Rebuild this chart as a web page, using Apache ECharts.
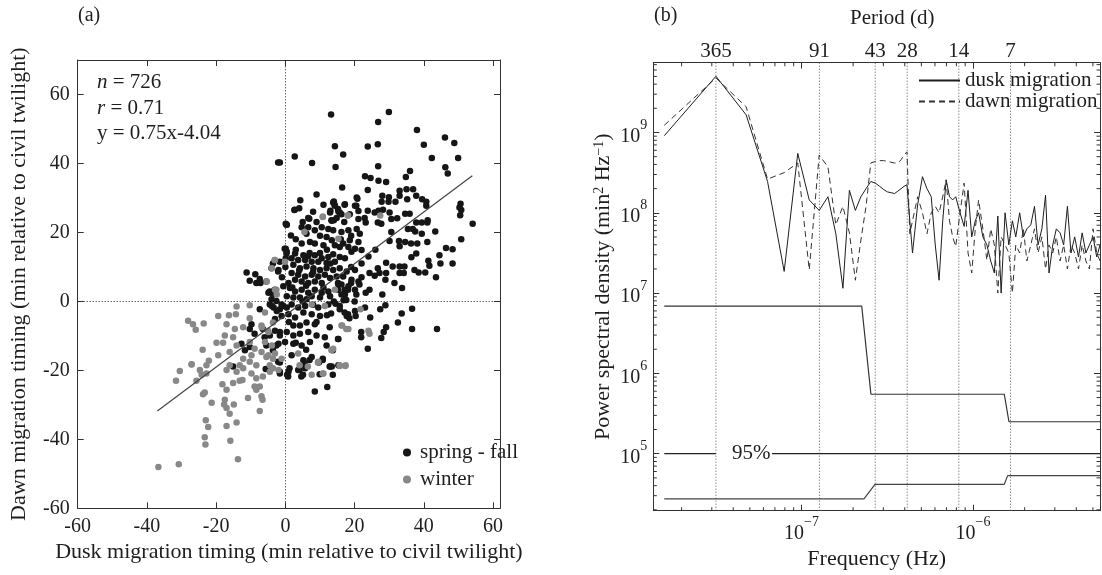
<!DOCTYPE html>
<html><head><meta charset="utf-8">
<script src="https://cdn.jsdelivr.net/npm/echarts@6.0.0/dist/echarts.min.js"></script>
<style>html,body{margin:0;padding:0;background:#fff}#c{width:1102px;height:575px}</style>
</head><body><div id="c"></div>
<script>
// ---------- Panel (a): scatter data [dusk timing, dawn timing] ----------
const springFall = [
[13.2,54.2],[29.9,54.9],[26.8,52],[38,49.7],[46.1,47.5],[48.8,45.9],[40,45.4],[14.3,45],[23.8,44.9],[26.7,45.6],[16.7,42.6],[2.7,42],[7.7,40.1],[-1.6,40.3],[14.5,39],[26.8,39.2],[42.3,41.6],[49.9,41.6],[46.2,38.9],[46.9,37.1],[23,36.3],[24.6,35.8],[26.9,35],[29.1,34.6],[34.8,36.1],[36,37.8],[16.4,33],[23.8,32.3],[33,32.1],[35,32.5],[36.9,32.5],[9,31],[4.3,29.3],[2.7,26.6],[14,29],[14.2,28],[20.8,29.8],[28,30.6],[29.9,30.2],[27.8,28.9],[29.8,28.9],[31.8,28.9],[33,30.6],[35.2,29.6],[37.8,30.6],[39.5,29.6],[40.7,28.9],[40.7,27.7],[50.6,28.3],[50.3,27.2],[50.8,26.5],[50.5,25],[17.1,28],[20.5,27.7],[13,26.3],[15.2,26.8],[15.7,25.8],[21.1,26.2],[23.8,26.3],[25.8,25.8],[26.9,26.3],[28.2,26.6],[30.1,25.8],[34.6,25.4],[35.9,25.4],[6.9,24],[13.3,23.5],[14,23.5],[22.9,24.2],[23.2,22.9],[30.6,23.9],[32.3,24.1],[41.1,23.5],[39.4,22.9],[54.1,22.5],[0.3,22.2],[26.7,22.9],[27.7,22.5],
[-2.1,40.3],[0.1,22.5],
[50.8,18],[46.4,15.5],[48.3,15.1],[43.3,20.3],[41,17.2],[44.5,13.4],[44.8,11],[48.3,11],[43.5,7],[41.3,11.8],[41.6,10.3],[37.3,9.1],[38.5,8.4],[40.4,8.4],[36.4,12.8],[37.8,13.9],[39.4,19.6],[37.5,20.3],[34.6,17.2],[36.3,16.8],[38.1,16.8],[32.8,17.5],[33,16],[30.1,17.5],[30.6,20.1],[35.4,21],[36.8,21],[37.8,22.9],[41,22.9],[31,10.1],[33,10.1],[34.4,10.1],[33,8.2],[34.2,8.2],[31.5,5.3],[33.7,3.9],[29.1,11.2],[29.1,8.2],[26.7,9.6],[27.2,8.2],[25.8,7.4],[28.9,6.3],[24.3,8.2],[24.3,3.4],[28,2],[23.2,2.5],[21.4,4.9],[19,5.3],[17.1,3.4],[18.1,3.4],[20.5,2],[15.2,3.4],[16.2,4.9],[15.2,5.3],[36.6,-2.1],[33.6,-3.5],[32.5,-6.1],[36.6,-8],[43.8,-8],[28.9,-1.1],[27.4,-2.3],[29.1,-7.5],[28.4,-8.9],[27.7,-10.6],[24.5,-4.7],[23,-1.8],[20.3,-4.2],[18.5,-4.9],[18.1,-3.7],[17.1,-3.2],[15.7,-2.3],[21.9,-8.9],[21.9,-10.4],[23.8,-13.7],[15.2,-10.9],[12.8,-18.9],[10.8,-16.6],[9.7,-17.7],[13.7,-14.2],[12.8,-7.5],[13.2,-3.5],[14.5,-0.7],[17.6,0.4],[16.8,0.3],
[-11.2,8.4],[-10.3,6],[-8.7,7.9],[-8.4,5.3],[-7.4,6.5],[-7.2,5.3],[-5.5,5.8],[-4,9.6],[-3.6,11],[-2.1,8.7],[-1.6,11.5],[-0.2,15.3],[0.3,13.9],[0.1,12.5],[-4.5,2.9],[-3.6,2],[-3.1,3.4],[-4,0.6],[-2.6,0.1],[-4.5,-0.9],[-3.4,-1.8],[-1.6,-2.3],[-0.7,-1.3],[-7.4,-2.3],[-9.8,-6.6],[-10.3,-8],[-8.9,-9.4],[-12.7,-12.3],[-10.3,-13.2],[-11.7,-14.2],[-6.5,-8],[-6,-10.4],[-4.5,-9.9],[-2.6,-12.8],[-3.6,-14.2],[-1.6,-8.9],[-5.5,-12.8],[-2.1,-17.5],
[-15.1,-18.9],[-5.7,-19.6],[-1.6,-17.7],[-1.6,-20.9],[0.5,-21.3],
[8.5,-26.1],[12.1,-24.8],[13,-18.9],[13.7,-21.3],[4.6,-21.8],[5.1,-21.3],[9.9,-21.1],[0.8,-21.8],[-1.6,-20.4],[1.2,-19.4],[5.6,-18],[7,-17],[10.8,-17],[4.1,-19.9],
[13.8,28.7],[14.3,27.7],[17.2,28.2],[20.6,30.1],[20.1,27.7],[2.6,26.5],[12.9,25.8],[15.3,26.1],[16.2,25.3],[6.6,24.2],[13.4,23.4],[14.8,24.2],[18.6,25.3],[21.1,23.9],[0.4,22.2],[4.7,21.5],[6.6,21.5],[6.1,19.6],[8.5,20.6],[10.5,21.5],[12.4,21],[13.8,20.6],[16.2,20.1],[18.2,20.6],[20.6,21],[21.5,19.6],[1.6,19.1],[11.9,18.7],[13.4,17.7],[16.7,16.8],[18.6,17.7],[21.1,17.2],[14.3,16.3],[11,16.3],[8.5,16.8],[7.1,17.2],[4.7,16.8],[15.7,15.8],[18.2,15.8],[20.1,15.3],[19.1,14.4],[22,14.9],[0.1,15.3],[0.4,14.4],[2.8,13.9],[5.2,13.4],[6.6,13.1],[8.5,13.4],[10.5,12.5],[12.4,12.9],[13.8,13.7],[15.7,12.9],[17.2,12.5],[14.3,11.5],[11.9,11.1],[9.5,11.5],[7.6,11.5],[5.7,12],[3.7,12],[1.8,12.5],[-2,9.1],[2.3,10.6],[4.2,9.6],[6.1,10.1],[8.1,9.6],[10,9.1],[11.9,9.6],[13.8,9.1],[15.7,9.6],[17.7,8.7],[20.1,9.1],[1.8,8.2],[3.7,7.7],[5.7,7.2],[7.6,7.7],[9.5,7.2],[11.4,7.7],[12.9,6.8],[14.8,7.2],[16.7,7.2],[19.1,6.3],[21.1,5.8],[2.8,6.3],[4.7,5.8],[6.6,5.3],[8.5,5.8],[10.5,5.3],[0.9,5.3],[-4.9,2.5],[-0.6,4.4],[1.3,3.9],[2.8,2.9],[4.7,3.4],[6.6,2.5],[8.5,3.4],[10.5,2.5],[12.4,2.9],[16.2,2],[0.4,1.5],[2.3,1.1],[4.2,1.1],[6.1,0.6],[7.6,1.5],[10,1.1],[12.9,1.5],[18.2,4.4],[20.1,3.4],[15.3,4.9],[17.2,2],[-3.9,-1.3],[-2.5,-2.8],[-1.1,-0.9],[0.4,-1.8],[1.8,-0.9],[3.7,-1.8],[5.7,-1.3],[9.5,-1.8],[12.4,-0.9],[15.7,-1.3],[20.1,-2.8],[-3,-5.1],[-1.1,-4.2],[0.9,-3.7],[2.8,-4.7],[5.2,-3.2],[7.6,-3.7],[10,-4.2],[17.7,-4.2],[2.3,-7],[4.2,-7],[6.1,-6.1],[8.5,-6.6],[-3,-8.5],[-1.6,-9.9],[0.4,-8.9],[2.3,-9.9],[4.2,-9.4],[6.6,-8.9],[9,-9.9],[11.4,-10.4],[15.3,-10.9],[-2,-12.3],[-0.1,-11.8],[2.3,-12.3],[4.7,-12.8],[7.1,-11.8],[11.9,-12.8],[1.8,-15.6],[5.2,-17.1],[7.6,-16.1],[15.3,-18.5],[0.9,-20.4],[3.7,-19.9],[5.7,-19.4],[13.4,-18.9],
[3,18],[5,23],[8,26],[10,19],[12,15],[2,4],[5,0],[8,-1],[11,4],[14,0],[1,-6],[3,-12],[6,-14],[9,-6],[12,-4],[-1,7],[0,10],[3,15],[7,14],[10,14],[9,23],[4,27],[11,28],[17,23],[19,10],[22,11],[24,13],[26,15],[22,7],[20,0],[8,8.5],[6,4.5],[4,9],[13,11],[16,18],[19,19]
];
const winter = [
[10.8,24.5],[18.1,24.9],[27.4,24.9],
[21.7,-2.3],[24,-8.5],[24.3,-9.4],[17.6,-8],[16.4,-7],[15.7,-18.5],[17.4,-18.5],[13.3,-14.2],
[-28.1,-5.6],[-26.7,-6.6],[-25.9,-8.2],[-23.6,-6.4],[-19.4,-4.2],[-16.3,-4],[-14.3,-3.7],[-14.1,-1.5],[-10.3,-1.1],[-17,-6.6],[-14.6,-8],[-12.2,-7.5],[-10.3,-4.9],[-17.5,-9.9],[-15.1,-10.4],[-19.9,-12],[-18,-12],[-23.9,-14],[-22.1,-17.2],[-19.4,-15.6],[-16.1,-14.7],[-14.1,-12.8],[-10.3,-11.8],[-8.9,-13.7],[-6.9,-14.7],[-5.5,-16.1],[-3.6,-16.6],[-12.2,-16.6],[-8.4,-18.5],[-4.5,-18.5],[-27.1,-18.2],[-22.8,-18.5],[-16.1,-18.5],[-13.2,-18.5],[-9.8,-15.6],[-6.9,-7],[-5,-8.5],[-3.6,-6.1],[-3.1,12],[-2.6,3.4],
[-30.5,-20.2],[-31.6,-23],[-27.1,-18.3],[-25.7,-23],[-24.7,-19.9],[-24.2,-21.3],[-22.8,-20.9],[-23.8,-26.9],[-23.3,-26.4],[-21.3,-29.4],[-23,-34.5],[-22.3,-36.4],[-23.3,-39.4],[-23.1,-41.5],[-36.7,-48],[-30.8,-47.2],[-13.7,-45.8],[-15.9,-40.4],[-17,-36.1],[-14.1,-35.1],[-16.1,-32.6],[-17.5,-28.5],[-17.7,-29.9],[-17,-30.9],[-14.9,-29.9],[-18.2,-24],[-17,-25.6],[-15.1,-23.7],[-13.2,-23],[-12.4,-22.8],[-10.8,-28],[-7.4,-31.8],[-6.9,-27.5],[-6.6,-28.5],[-7.4,-24.7],[-8.9,-24.7],[-8.4,-25.6],[-9.8,-20.9],[-8.4,-22.3],[-6.5,-21.8],[-4.5,-20.4],[-3.6,-19.4],[-17,-19.9],[-14.1,-20.4],[-12.2,-19.4],[-10.3,-17.5],
[4.1,-18.5],[6.5,-18.9],[9.4,-17.7],[10.8,-20.9],[15.7,-18.7],[17.3,-18.7],
[10.8,24.6],[18,24.9],[5.5,20.1],[15.3,18.2],[-0.1,11.5],[-3,12],[-3.9,9.6],[-5.4,5.8],[-3,3.4],[-2.5,2],[14.3,3.4],[-5.9,-3.2],[7.6,-0.9],[11.4,-1.3],[16.2,-7],[18.2,-8],[-6.8,-7.5],[-4.9,-8.9],[-5.9,-11.8],[-3.9,-12.8],[13.8,-13.7],[-4.9,-15.6],[-3,-15.1],[-1.1,-16.6],[3.7,-15.1],[9.5,-17.5],[-3.9,-19.4],[-2,-19.9],[7.6,-21.3],[11,-20.9]
];
const fitSlope = 0.75, fitIntercept = -4.04;
const fitRange = [-37, 54];

// ---------- Panel (b): power spectra ----------
const recordDays = 730;                       // fundamental period of the spectrum
const harmonics = [1,2,3,4,5,6,7,8,9,10,11,12,13,14,15,16,17,18,19,20,21,22,23,24,25,26,
  27,28,30,32,34,36,38,40,42,44,46,48,50,53,56,59,62,65,68,72,76,80,84,88,92,97,102,107,112,118,124,130,137,144,151,159,167,175,184,193,203,213,224,235,247,260,273,287,301,316,332,347];
const duskLog10 = [8.96,9.70,9.22,8.39,7.27,8.74,8.16,8.03,8.20,7.74,7.06,8.28,8.03,8.20,8.30,8.39,8.37,8.33,8.29,8.26,8.25,8.24,8.27,8.30,8.33,8.35,
  7.9,7.5,8.1,8.45,8.3,8.2,7.6,7.16,7.9,8.41,8.2,8.16,8.2,8.0,7.83,8.28,7.7,7.9,8.0,7.7,7.6,7.4,7.25,7.96,7.0,8.0,7.6,7.9,7.7,8.0,7.7,7.8,7.85,8.08,7.6,7.8,8.22,7.25,7.6,7.8,7.75,7.6,8.08,7.5,7.7,7.45,7.75,7.5,7.6,7.7,7.45,7.6];
const dawnLog10 = [9.09,9.68,9.32,8.42,8.50,8.62,7.29,8.72,8.57,7.85,8.08,7.75,7.16,7.66,8.08,8.62,8.64,8.65,8.65,8.64,8.63,8.62,8.62,8.66,8.72,8.76,
  7.74,7.9,8.2,8.0,7.74,8.0,8.08,8.0,8.2,8.41,7.9,7.7,7.58,8.0,8.37,7.5,7.25,7.8,8.16,7.8,7.41,7.8,7.6,7.0,7.7,7.6,7.5,7.0,7.6,7.5,7.8,7.4,7.6,7.8,7.5,7.7,7.3,7.6,7.5,7.7,7.4,7.6,7.3,7.6,7.5,7.3,7.6,7.4,7.3,7.8,7.5,7.4];
const upperFreq  = [1.585e-8, 2.245e-7, 2.54e-7, 1.522e-6, 1.62e-6, 5.5e-6];
const upperLevel = [6.9e6, 6.9e6, 5.5e5, 5.5e5, 2.5e5, 2.5e5];
const lowerFreq  = [1.585e-8, 2.314e-7, 2.683e-7, 1.522e-6, 1.593e-6, 5.5e-6];
const lowerLevel = [2.73e4, 2.73e4, 4.16e4, 4.16e4, 5.33e4, 5.33e4];
const sig95Level = 1e5;
const sig95Left  = [1.585e-8, 3.17e-8];
const sig95Right = [6.73e-8, 5.5e-6];
const sig95LabelFreq = 5.1e-8;
const periodsDays = [365, 91, 43, 28, 14, 7];
const freqRange = [1.368e-8, 5.5e-6];
const psdRange  = [1.95e4, 7.4e9];

// ---------- build ----------
const FONT = "'Liberation Serif','Times New Roman',serif";
const INK = '#1e1e1e';
const DAY = 86400;
const f0 = 1 / (recordDays * DAY);
const duskData = harmonics.map((k, i) => [k * f0, Math.pow(10, duskLog10[i])]);
const dawnData = harmonics.map((k, i) => [k * f0, Math.pow(10, dawnLog10[i])]);
const zip = (a, b) => a.map((v, i) => [v, b[i]]);

function logMinor(lo, hi) {
  const out = [];
  for (let e = Math.floor(Math.log10(lo)); e <= Math.ceil(Math.log10(hi)); e++)
    for (let m = 2; m <= 9; m++) { const v = m * Math.pow(10, e); if (v > lo && v < hi) out.push(v); }
  return out;
}
const xMinor = logMinor(freqRange[0], freqRange[1]);
const yMinor = logMinor(psdRange[0], psdRange[1]);

const pow10Label = v => {
  const l = Math.log10(v), e = Math.round(l);
  if (Math.abs(l - e) > 1e-6) return '';
  return '{b|10}{s|' + (e < 0 ? '\u2212' + (-e) : e) + '}';
};
const powRich = {
  b: { fontFamily: FONT, fontSize: 20, color: INK, lineHeight: 28, verticalAlign: 'bottom' },
  s: { fontFamily: FONT, fontSize: 14, color: INK, lineHeight: 14, verticalAlign: 'top' }
};
const axisLineStyle = { show: true, onZero: false, lineStyle: { color: '#333', width: 1 } };
const tickIn = { show: true, inside: true, length: 6, lineStyle: { color: '#333' } };
const lbl = { fontFamily: FONT, fontSize: 20, color: INK };
const nameStyle = { fontFamily: FONT, fontSize: 22, color: INK };

const minorSeries = (data, size, offset) => ({
  type: 'scatter', xAxisIndex: 2, yAxisIndex: 2, symbol: 'rect', symbolSize: size,
  symbolOffset: offset, itemStyle: { color: '#333', opacity: 1 }, silent: true, clip: false, z: 5,
  data
});
const periodLines = periodsDays.map(d => ({
  type: 'line', xAxisIndex: 2, yAxisIndex: 2, symbol: 'none', silent: true, z: 1,
  lineStyle: { type: [1, 2], color: '#555', width: 1 },
  data: [[1 / (d * DAY), psdRange[0]], [1 / (d * DAY), psdRange[1]]]
}));

const option = {
  animation: false,
  backgroundColor: '#fff',
  textStyle: { fontFamily: FONT },
  grid: [
    { left: 77.7, top: 60, width: 422.3, height: 448.3, outerBoundsMode: 'none', containLabel: false },
    { left: 653.3, top: 62.7, width: 446.7, height: 448, outerBoundsMode: 'none', containLabel: false }
  ],
  xAxis: [
    { type: 'value', gridIndex: 0, min: -60, max: 62, interval: 20, position: 'bottom',
      axisLine: axisLineStyle, axisTick: tickIn, splitLine: { show: false },
      axisLabel: Object.assign({ margin: 8, formatter: v => (v % 20 === 0 ? String(v) : '') }, lbl),
      name: 'Dusk migration timing (min relative to civil twilight)', nameLocation: 'middle', nameGap: 32,
      nameTextStyle: nameStyle },
    { type: 'value', gridIndex: 0, min: -60, max: 62, interval: 20, position: 'top',
      axisLine: axisLineStyle, axisTick: tickIn, axisLabel: { show: false }, splitLine: { show: false } },
    { type: 'log', logBase: 10, gridIndex: 1, min: freqRange[0], max: freqRange[1], position: 'bottom',
      axisLine: axisLineStyle, axisTick: tickIn, splitLine: { show: false },
      axisLabel: { margin: 5, formatter: pow10Label, rich: powRich },
      name: 'Frequency (Hz)', nameLocation: 'middle', nameGap: 37, nameTextStyle: nameStyle },
    { type: 'log', logBase: 10, gridIndex: 1, min: freqRange[0], max: freqRange[1], position: 'top',
      axisLine: axisLineStyle, axisTick: tickIn, axisLabel: { show: false }, splitLine: { show: false } }
  ],
  yAxis: [
    { type: 'value', gridIndex: 0, min: -60, max: 70, interval: 20, position: 'left',
      axisLine: axisLineStyle, axisTick: tickIn, splitLine: { show: false },
      axisLabel: Object.assign({ margin: 8, formatter: v => (v <= 60 ? String(v) : '') }, lbl),
      name: 'Dawn migration timing (min relative to civil twilight)', nameLocation: 'middle', nameGap: 47,
      nameRotate: 90, nameTextStyle: nameStyle },
    { type: 'value', gridIndex: 0, min: -60, max: 70, interval: 20, position: 'right',
      axisLine: axisLineStyle, axisTick: tickIn, axisLabel: { show: false }, splitLine: { show: false } },
    { type: 'log', logBase: 10, gridIndex: 1, min: psdRange[0], max: psdRange[1], position: 'left',
      axisLine: axisLineStyle, axisTick: tickIn, splitLine: { show: false },
      axisLabel: { margin: 6, formatter: pow10Label, rich: powRich },
      name: 'Power spectral density (min{s|2} Hz{s|\u22121})', nameLocation: 'middle', nameGap: 39, nameRotate: 90,
      nameTextStyle: Object.assign({ rich: { s: { fontFamily: FONT, fontSize: 14, color: INK, verticalAlign: 'top', lineHeight: 12 } } }, nameStyle) },
    { type: 'log', logBase: 10, gridIndex: 1, min: psdRange[0], max: psdRange[1], position: 'right',
      axisLine: axisLineStyle, axisTick: tickIn, axisLabel: { show: false }, splitLine: { show: false } }
  ],
  legend: [
    { data: ['spring - fall', 'winter'], orient: 'vertical', left: 398, top: 437, itemWidth: 16, itemHeight: 8,
      itemGap: 6, icon: 'circle', textStyle: { fontFamily: FONT, fontSize: 21, color: INK }, selectedMode: false },
    { data: ['dusk migration', 'dawn migration'], orient: 'vertical', left: 913, top: 65, itemWidth: 41, itemHeight: 12,
      itemGap: 0, itemStyle: { opacity: 0 }, textStyle: { fontFamily: FONT, fontSize: 21, color: INK }, selectedMode: false }
  ],
  graphic: [
    { type: 'text', left: 78, top: 6, style: { text: '(a)', font: '20px ' + FONT, fill: INK } },
    { type: 'text', left: 654, top: 6, style: { text: '(b)', font: '20px ' + FONT, fill: INK } },
    { type: 'text', left: 850, top: 8, style: { text: 'Period (d)', font: '21px ' + FONT, fill: INK } },
    { type: 'text', left: 97, top: 72, style: { text: '{i|n} = 726', font: '21px ' + FONT, fill: INK,
        rich: { i: { fontStyle: 'italic', fontFamily: FONT, fontSize: 21 } } } },
    { type: 'text', left: 97, top: 98, style: { text: '{i|r} = 0.71', font: '21px ' + FONT, fill: INK,
        rich: { i: { fontStyle: 'italic', fontFamily: FONT, fontSize: 21 } } } },
    { type: 'text', left: 97, top: 123, style: { text: 'y = 0.75x-4.04', font: '21px ' + FONT, fill: INK } }
  ],
  series: [
    { name: 'spring - fall', type: 'scatter', xAxisIndex: 0, yAxisIndex: 0, symbolSize: 6.5,
      itemStyle: { color: '#161616', opacity: 1 }, data: springFall,
      markLine: { silent: true, symbol: ['none', 'none'], label: { show: false }, z: 1,
        lineStyle: { type: [1, 2], color: '#222', width: 1 }, data: [{ xAxis: 0 }, { yAxis: 0 }] } },
    { name: 'winter', type: 'scatter', xAxisIndex: 0, yAxisIndex: 0, symbolSize: 6.5,
      itemStyle: { color: '#888888', opacity: 1 }, data: winter },
    { name: 'fit', type: 'line', xAxisIndex: 0, yAxisIndex: 0, symbol: 'none',
      lineStyle: { color: '#444', width: 1.2 },
      data: fitRange.map(x => [x, fitSlope * x + fitIntercept]) },
    ...periodLines,
    { type: 'scatter', xAxisIndex: 2, yAxisIndex: 2, symbolSize: 0, silent: true, clip: false,
      itemStyle: { opacity: 1 },
      label: { show: true, position: 'top', distance: 1, formatter: '{b}', fontFamily: FONT, fontSize: 21, color: INK },
      data: periodsDays.map(d => ({ name: String(d), value: [1 / (d * DAY), psdRange[1]] })) },
    { name: 'dusk migration', type: 'line', xAxisIndex: 2, yAxisIndex: 2, symbol: 'none',
      lineStyle: { color: INK, width: 1 }, itemStyle: { color: INK }, data: duskData },
    { name: 'dawn migration', type: 'line', xAxisIndex: 2, yAxisIndex: 2, symbol: 'none',
      lineStyle: { color: '#333', width: 1, type: [6, 4] }, itemStyle: { color: '#333' }, data: dawnData },
    { type: 'line', xAxisIndex: 2, yAxisIndex: 2, symbol: 'none', lineStyle: { color: '#333', width: 1.2 },
      data: zip(upperFreq, upperLevel) },
    { type: 'line', xAxisIndex: 2, yAxisIndex: 2, symbol: 'none', lineStyle: { color: '#444', width: 1.2 },
      data: zip(lowerFreq, lowerLevel) },
    { type: 'line', xAxisIndex: 2, yAxisIndex: 2, symbol: 'none', lineStyle: { color: '#222', width: 1.2 },
      data: sig95Left.map(f => [f, sig95Level]) },
    { type: 'line', xAxisIndex: 2, yAxisIndex: 2, symbol: 'none', lineStyle: { color: '#222', width: 1.2 },
      data: sig95Right.map(f => [f, sig95Level]) },
    { type: 'scatter', xAxisIndex: 2, yAxisIndex: 2, symbolSize: 0, silent: true, itemStyle: { opacity: 1 },
      label: { show: true, position: 'inside', formatter: '95%', fontFamily: FONT, fontSize: 21, color: INK },
      data: [[sig95LabelFreq, sig95Level]] },
    minorSeries(xMinor.map(f => [f, psdRange[0]]), [1, 3.5], [0, -1.75]),
    minorSeries(xMinor.map(f => [f, psdRange[1]]), [1, 3.5], [0, 1.75]),
    minorSeries(yMinor.map(v => [freqRange[0], v]), [3.5, 1], [1.75, 0]),
    minorSeries(yMinor.map(v => [freqRange[1], v]), [3.5, 1], [-1.75, 0])
  ]
};
const chart = echarts.init(document.getElementById('c'), null, { renderer: 'canvas' });
chart.setOption(option);
</script></body></html>
